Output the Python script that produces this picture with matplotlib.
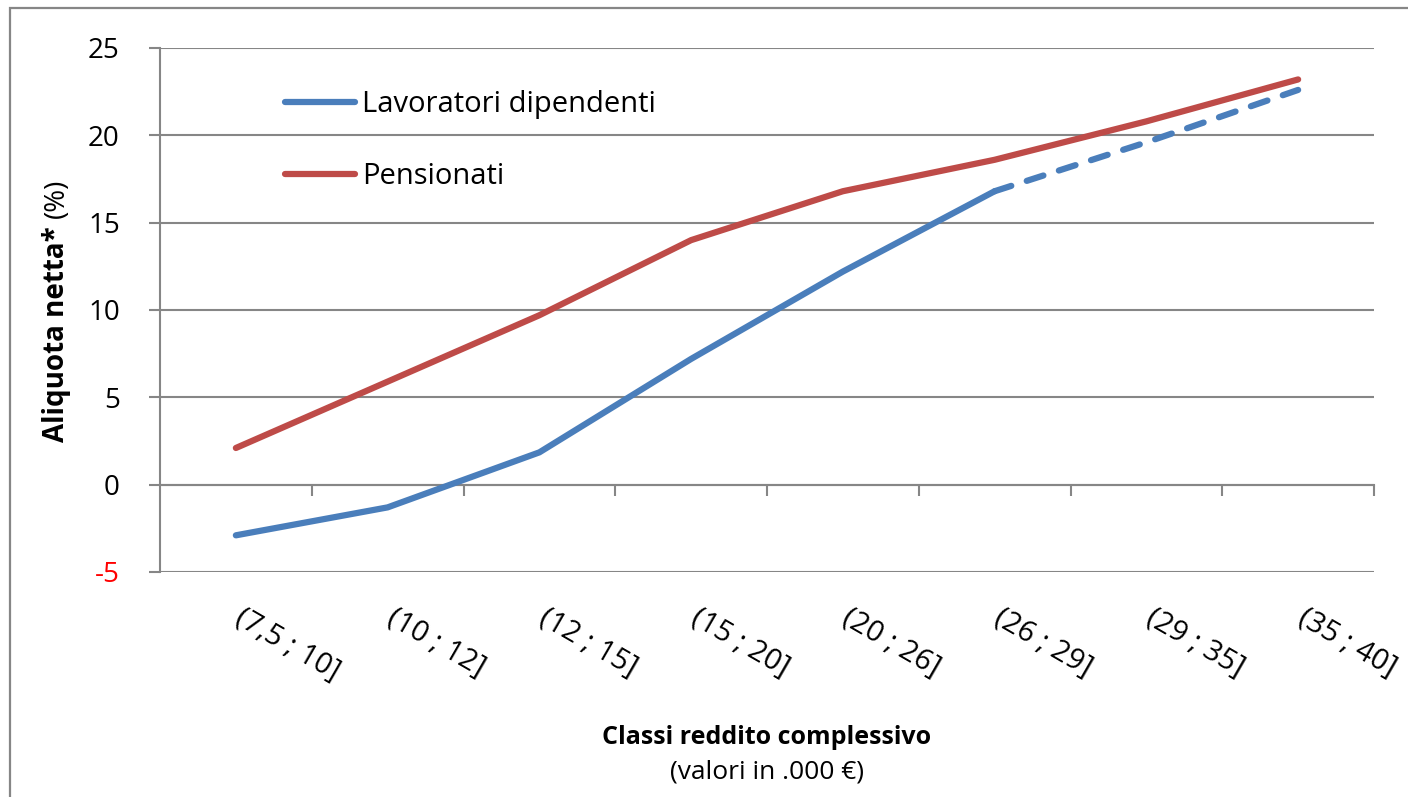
import matplotlib.pyplot as plt
from matplotlib.lines import Line2D
from matplotlib.patches import Rectangle
import matplotlib.transforms as mtransforms

plt.rcParams['font.family'] = ['Open Sans', 'DejaVu Sans']

# Data
classes = ['(7,5 ; 10]', '(10 ; 12]', '(12 ; 15]', '(15 ; 20]',
           '(20 ; 26]', '(26 ; 29]', '(29 ; 35]', '(35 ; 40]']
dipendenti = [-2.9, -1.3, 1.85, 7.2, 12.2, 16.8, 19.6, 22.6]
pensionati = [2.1, 5.9, 9.7, 14.0, 16.8, 18.6, 20.8, 23.2]
y_ticks = [-5, 0, 5, 10, 15, 20, 25]

blue = '#4A7EBB'
red = '#BE4B48'
grey = '#868686'

fig = plt.figure(figsize=(14.08, 7.97), dpi=100)
ax = fig.add_axes([160 / 1408, 1 - 572 / 797, (1374 - 160) / 1408, (572 - 48) / 797])

# frame around the chart area
fig.patches.append(Rectangle((10 / 1408, -0.1), 1.2, 1 - 8 / 797 + 0.1,
                             transform=fig.transFigure, fill=False,
                             edgecolor=grey, linewidth=1.6))

x = list(range(len(classes)))
n_solid = 6

# grid lines
for v in y_ticks:
    ax.axhline(v, color=grey, linewidth=1.5, zorder=1)

ax.plot(x[:n_solid], dipendenti[:n_solid], color=blue, linewidth=4.5,
        solid_capstyle='round', solid_joinstyle='round', zorder=3)
ax.plot(x[n_solid - 1:], dipendenti[n_solid - 1:], color=blue, linewidth=4.5,
        dashes=(2.8, 2.6), dash_capstyle='round', zorder=3)
ax.plot(x, pensionati, color=red, linewidth=4.5,
        solid_capstyle='round', solid_joinstyle='round', zorder=3)

ax.set_xlim(-0.5, len(classes) - 0.5)
ax.set_ylim(-5, 25)

for s in ['top', 'right']:
    ax.spines[s].set_visible(False)
ax.spines['left'].set_color(grey)
ax.spines['left'].set_linewidth(1.5)
# category axis sits at y = 0
ax.spines['bottom'].set_position(('data', 0))
ax.spines['bottom'].set_color(grey)
ax.spines['bottom'].set_linewidth(1.5)

ax.set_yticks(y_ticks)
ax.set_yticklabels([str(v) for v in y_ticks], fontsize=20)
ax.tick_params(axis='y', length=8, width=1.5, color=grey, pad=21)
ax.get_yticklabels()[0].set_color('red')

ax.set_xticks([i + 0.5 for i in x])
ax.set_xticklabels([])
ax.tick_params(axis='x', length=8, width=1.5, color=grey, direction='out')

# category labels below the plot, rotated
trans = mtransforms.blended_transform_factory(ax.transData, ax.transAxes)
for i, lab in enumerate(classes):
    ax.text(i + 0.06, -0.06, lab, transform=trans, rotation=-30,
            rotation_mode='anchor', ha='left', va='top', fontsize=21)

# legend
handles = [Line2D([], [], color=blue, linewidth=4.5, solid_capstyle='round'),
           Line2D([], [], color=red, linewidth=4.5, solid_capstyle='round')]
ax.legend(handles, ['Lavoratori dipendenti', 'Pensionati'], frameon=False,
          loc='upper left', bbox_to_anchor=(0.081, 0.97), fontsize=21,
          handlelength=2.4, handletextpad=0.25, labelspacing=1.48)

# axis titles
fig.text(767 / 1408, 1 - 737 / 797, 'Classi reddito complessivo',
         ha='center', va='center', fontsize=18, fontweight='bold')
fig.text(767 / 1408, 1 - 772 / 797, '(valori in .000 €)',
         ha='center', va='center', fontsize=19)
fig.text(64 / 1408, 1 - 334 / 797, 'Aliquota netta*', rotation=90,
         rotation_mode='anchor', ha='center', va='baseline',
         fontsize=20, fontweight='bold')
fig.text(64 / 1408, 1 - 198 / 797, '(%)', rotation=90,
         rotation_mode='anchor', ha='center', va='baseline', fontsize=20)

fig.savefig('out.png', dpi=100)
